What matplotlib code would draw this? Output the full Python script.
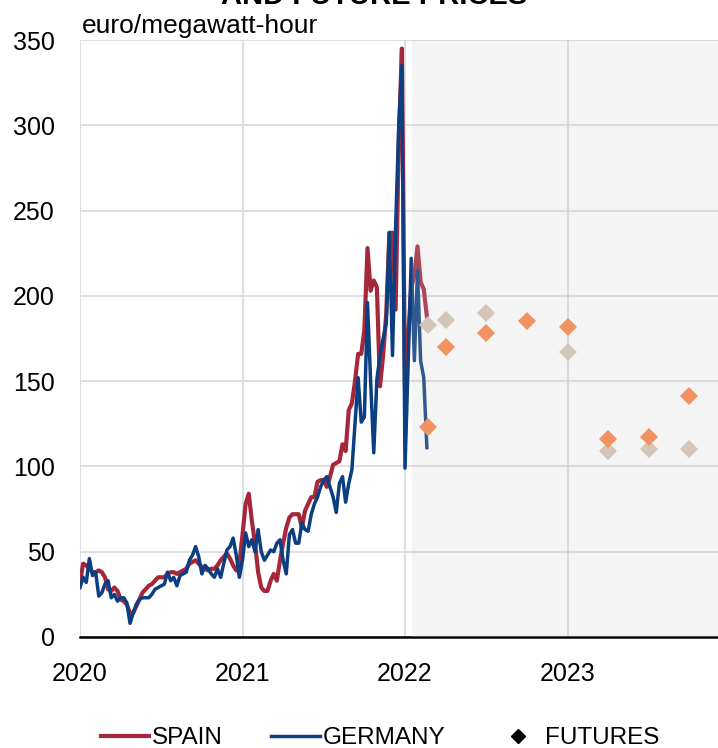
import matplotlib.pyplot as plt
import numpy as np

plt.rcParams['font.family'] = ['Liberation Sans', 'DejaVu Sans']

# weekly spot prices, euro/MWh, starting first week of 2020
spain = [32, 43, 42, 40, 38, 38, 39, 38, 35, 28,
         27, 29, 27, 22, 21, 19, 14, 14, 18, 22,
         26, 28, 30, 31, 33, 35, 35, 35, 37, 38,
         38, 37, 38, 39, 40, 43, 44, 45, 43, 41,
         40, 39, 40, 40, 42, 45, 47, 49, 46, 42,
         39, 43, 60, 78, 84, 68, 55, 38, 29, 27,
         27, 33, 37, 33, 45, 55, 64, 70, 72, 72,
         72, 64, 74, 78, 82, 82, 91, 92, 92, 88,
         94, 101, 102, 103, 113, 109, 133, 137, 150, 166,
         166, 180, 228, 203, 209, 205, 147, 165, 190, 237,
         237, 192, 290, 345, 145, 175, 205, 212, 229, 208,
         204, 188]
germany = [29, 35, 32, 46, 36, 38, 24, 26, 31, 33,
           23, 25, 21, 23, 23, 20, 8, 14, 19, 22,
           23, 23, 23, 25, 28, 29, 30, 31, 38, 33,
           35, 30, 36, 37, 38, 45, 48, 53, 47, 37,
           42, 40, 37, 35, 40, 35, 43, 51, 53, 58,
           48, 35, 45, 61, 53, 57, 50, 63, 50, 45,
           48, 51, 50, 55, 57, 45, 37, 60, 63, 55,
           55, 67, 63, 62, 72, 78, 82, 88, 92, 94,
           88, 82, 73, 90, 94, 79, 90, 98, 125, 152,
           126, 129, 196, 150, 108, 151, 165, 175, 184, 237,
           165, 240, 300, 335, 99, 160, 222, 162, 215, 162,
           152, 111]

# futures (decimal year)
fut_orange_x = [2022.14, 2022.25, 2022.5, 2022.75, 2023.0, 2023.25, 2023.5, 2023.75]
fut_orange = [123, 170, 178, 185, 182, 116, 117, 141]
fut_grey_x = [2022.14, 2022.25, 2022.5, 2023.0, 2023.25, 2023.5, 2023.75]
fut_grey = [183, 186, 190, 167, 109, 110, 110]

years = [2020, 2021, 2022, 2023]

fig = plt.figure(figsize=(7.18, 7.48), dpi=100)
ax = fig.add_axes([80/718, 1-637/748, 1-80/718, 597/748])

t_sp = 2020 + np.arange(len(spain)) / 52
t_de = 2020 + np.arange(len(germany)) / 52
ax.plot(t_sp, spain, color='#a6273b', lw=3.0, zorder=2, label='SPAIN')
ax.plot(t_de, germany, color='#0b3f82', lw=2.5, zorder=2.1, label='GERMANY')

# shaded forecast area sits over the lines
ax.axvspan(2022.045, 2024.5, color='#c8c8c8', alpha=0.2, lw=0, zorder=3)

ax.plot(fut_grey_x, fut_grey, ls='none', marker='D', ms=9, color='#d3c5b8', mew=0, zorder=4)
ax.plot(fut_orange_x, fut_orange, ls='none', marker='D', ms=9, color='#f29260', mew=0, zorder=4.1)
ax.plot([], [], ls='none', marker='D', ms=7, color='black', label='FUTURES')

ax.set_xlim(2020, 2020 + 638/162.5)
ax.set_ylim(0, 350)
ax.set_yticks(range(0, 351, 50))
ax.set_xticks(years)
ax.set_xticklabels([str(y) for y in years])
ax.tick_params(axis='y', length=0, pad=18, labelsize=18)
ax.tick_params(axis='x', length=0, pad=18, labelsize=18)

ax.set_axisbelow(True)
ax.grid(True, color='#d9d9d9', lw=1.2)
for s in ['left', 'top', 'right']:
    ax.spines[s].set_visible(False)
ax.spines['bottom'].set_color('black')
ax.spines['bottom'].set_linewidth(1.8)

fig.text(82/718, 1-33/748, 'euro/megawatt-hour', fontsize=19, va='baseline', ha='left')
fig.text(374/718, 1-4/748, 'AND FUTURE PRICES', fontsize=21, fontweight='bold',
         va='baseline', ha='center')

fig.legend(loc='center', bbox_to_anchor=(380/718, 1-738/748), ncol=3, frameon=False,
           fontsize=17.5, handlelength=2.0, handletextpad=0.1, columnspacing=2.0)

fig.savefig('out.png', dpi=100)
